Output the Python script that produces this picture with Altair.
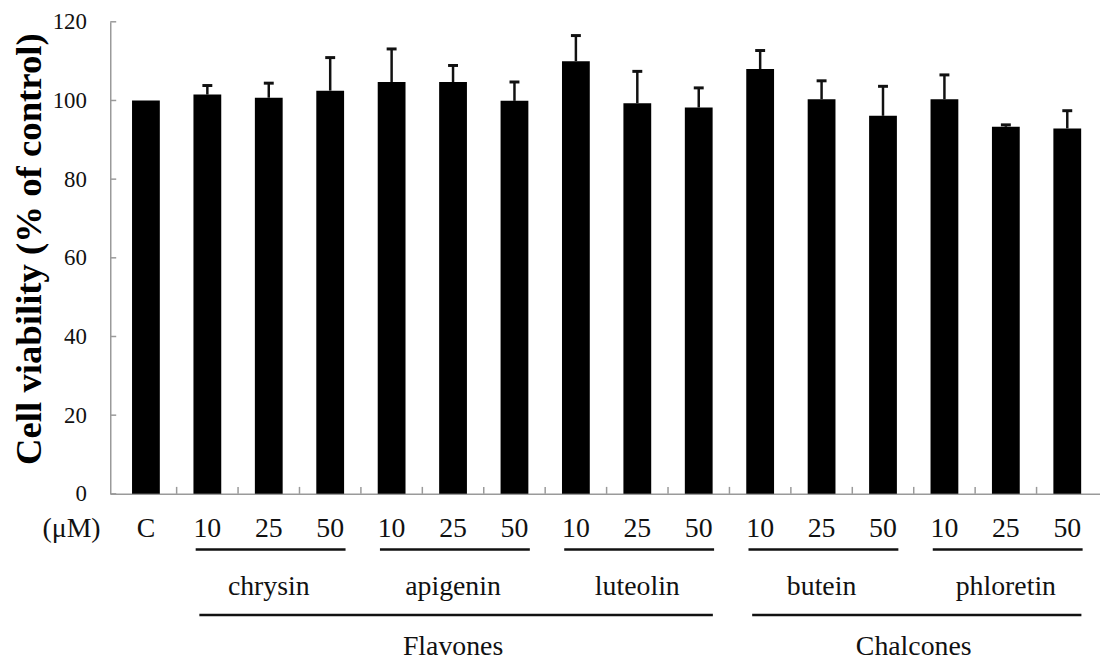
import altair as alt
import pandas as pd

# ---- data ----
dose_labels = ["C", "10", "25", "50", "10", "25", "50", "10", "25", "50",
               "10", "25", "50", "10", "25", "50"]
means = [100.0, 101.5, 100.7, 102.5, 104.7, 104.7, 99.9, 110.0, 99.3, 98.2,
         108.0, 100.3, 96.1, 100.3, 93.3, 92.9]
sds = [0.0, 2.3, 3.7, 8.4, 8.4, 4.2, 4.8, 6.5, 8.1, 5.0,
       4.7, 4.7, 7.5, 6.2, 0.5, 4.5]
compounds = ["chrysin", "apigenin", "luteolin", "butein", "phloretin"]
compound_first = [1, 4, 7, 10, 13]
compound_last = [3, 6, 9, 12, 15]
classes = ["Flavones", "Chalcones"]
class_first = [1, 10]
class_last = [9, 15]
y_ticks = [0, 20, 40, 60, 80, 100, 120]

FONT = "Liberation Serif"
INK = "#111111"
AXIS = "#9a9a9a"

idx = list(range(len(means)))
df = pd.DataFrame({"idx": idx, "label": dose_labels, "mean": means, "sd": sds})
df_bounds = pd.DataFrame({"b": [i + 0.5 for i in idx[:-1]]})
df_yt = pd.DataFrame({"v": y_ticks})
df_comp = pd.DataFrame({
    "name": compounds,
    "x1": [f - 0.19 for f in compound_first],
    "x2": [l + 0.25 for l in compound_last],
    "mid": [(f + l) / 2 for f, l in zip(compound_first, compound_last)],
})
df_cls = pd.DataFrame({
    "name": classes,
    "x1": [f - 0.13 for f in class_first],
    "x2": [l + 0.23 for l in class_last],
    "mid": [(f + l) / 2 for f, l in zip(class_first, class_last)],
})
df_unit = pd.DataFrame({"t": ["(μM)"]})

W, H = 997, 475.5
xs = alt.Scale(domain=[-0.5, -0.5 + W / 62.5], nice=False, zero=False)
ys = alt.Scale(domain=[0, 120], nice=False, zero=True)

x_axis = alt.Axis(labels=False, ticks=False, grid=False, title=None,
                  domainColor=AXIS, domainWidth=1.5)
y_axis = alt.Axis(values=y_ticks, ticks=False, grid=False,
                  labelFont=FONT, labelFontSize=23, labelColor=INK,
                  labelPadding=24, domainColor=AXIS, domainWidth=1.5,
                  title="Cell viability (% of control)",
                  titleFont=FONT, titleFontSize=37, titleFontWeight="bold",
                  titleColor="black", titleAngle=270, titleX=-70,
                  titleY=228.5, titleBaseline="alphabetic",
                  titleAlign="center")


def X(field):
    return alt.X(field, scale=xs, axis=x_axis)


def Y(field):
    return alt.Y(field, scale=ys, axis=y_axis)


bars = alt.Chart(df).mark_bar(width=28, color="black").encode(
    x=X("idx:Q"), y=Y("mean:Q"),
)

err_base = alt.Chart(df).transform_filter("datum.sd > 0").transform_calculate(
    upper="datum.mean + datum.sd")
err = err_base.mark_rule(color=INK, strokeWidth=2.5).encode(
    x=X("idx:Q"), y=Y("mean:Q"), y2="upper:Q",
)
cap = err_base.mark_rule(color=INK, strokeWidth=3, xOffset=-5, x2Offset=5).encode(
    x=X("idx:Q"), x2="idx:Q", y=Y("upper:Q"),
)

xticks = alt.Chart(df_bounds).mark_rule(color=AXIS, strokeWidth=1.5).encode(
    x=X("b:Q"), y=alt.value(H), y2=alt.value(H - 7),
)
yticks = alt.Chart(df_yt).mark_rule(color=AXIS, strokeWidth=1.5).encode(
    y=Y("v:Q"), x=alt.value(0), x2=alt.value(6),
)

dose_text = alt.Chart(df).mark_text(font=FONT, fontSize=28, color=INK,
                                    baseline="alphabetic", align="center").encode(
    x=X("idx:Q"), y=alt.value(518.5), text="label:N",
)
unit_text = alt.Chart(df_unit).mark_text(font=FONT, fontSize=28, color=INK,
                                         baseline="alphabetic", align="center").encode(
    x=alt.value(-39), y=alt.value(518.5), text="t:N",
)

comp_line = alt.Chart(df_comp).mark_rule(color=INK, strokeWidth=2.5).encode(
    x=X("x1:Q"), x2="x2:Q", y=alt.value(531.5),
)
comp_text = alt.Chart(df_comp).mark_text(font=FONT, fontSize=28, color=INK,
                                         baseline="alphabetic", align="center").encode(
    x=X("mid:Q"), y=alt.value(577.5), text="name:N",
)
cls_line = alt.Chart(df_cls).mark_rule(color=INK, strokeWidth=2.5).encode(
    x=X("x1:Q"), x2="x2:Q", y=alt.value(597.5),
)
cls_text = alt.Chart(df_cls).mark_text(font=FONT, fontSize=28, color=INK,
                                       baseline="alphabetic", align="center").encode(
    x=X("mid:Q"), y=alt.value(637.5), text="name:N",
)

chart = alt.layer(
    bars, err, cap, xticks, yticks, dose_text, unit_text,
    comp_line, comp_text, cls_line, cls_text,
).properties(
    width=W, height=H,
    autosize=alt.AutoSizeParams(type="none"),
    padding={"left": 103, "top": 11.5, "right": 0, "bottom": 169},
    background="white",
).configure_view(stroke=None)

chart.save("out.html", embed_options={"renderer": "svg", "actions": False})
